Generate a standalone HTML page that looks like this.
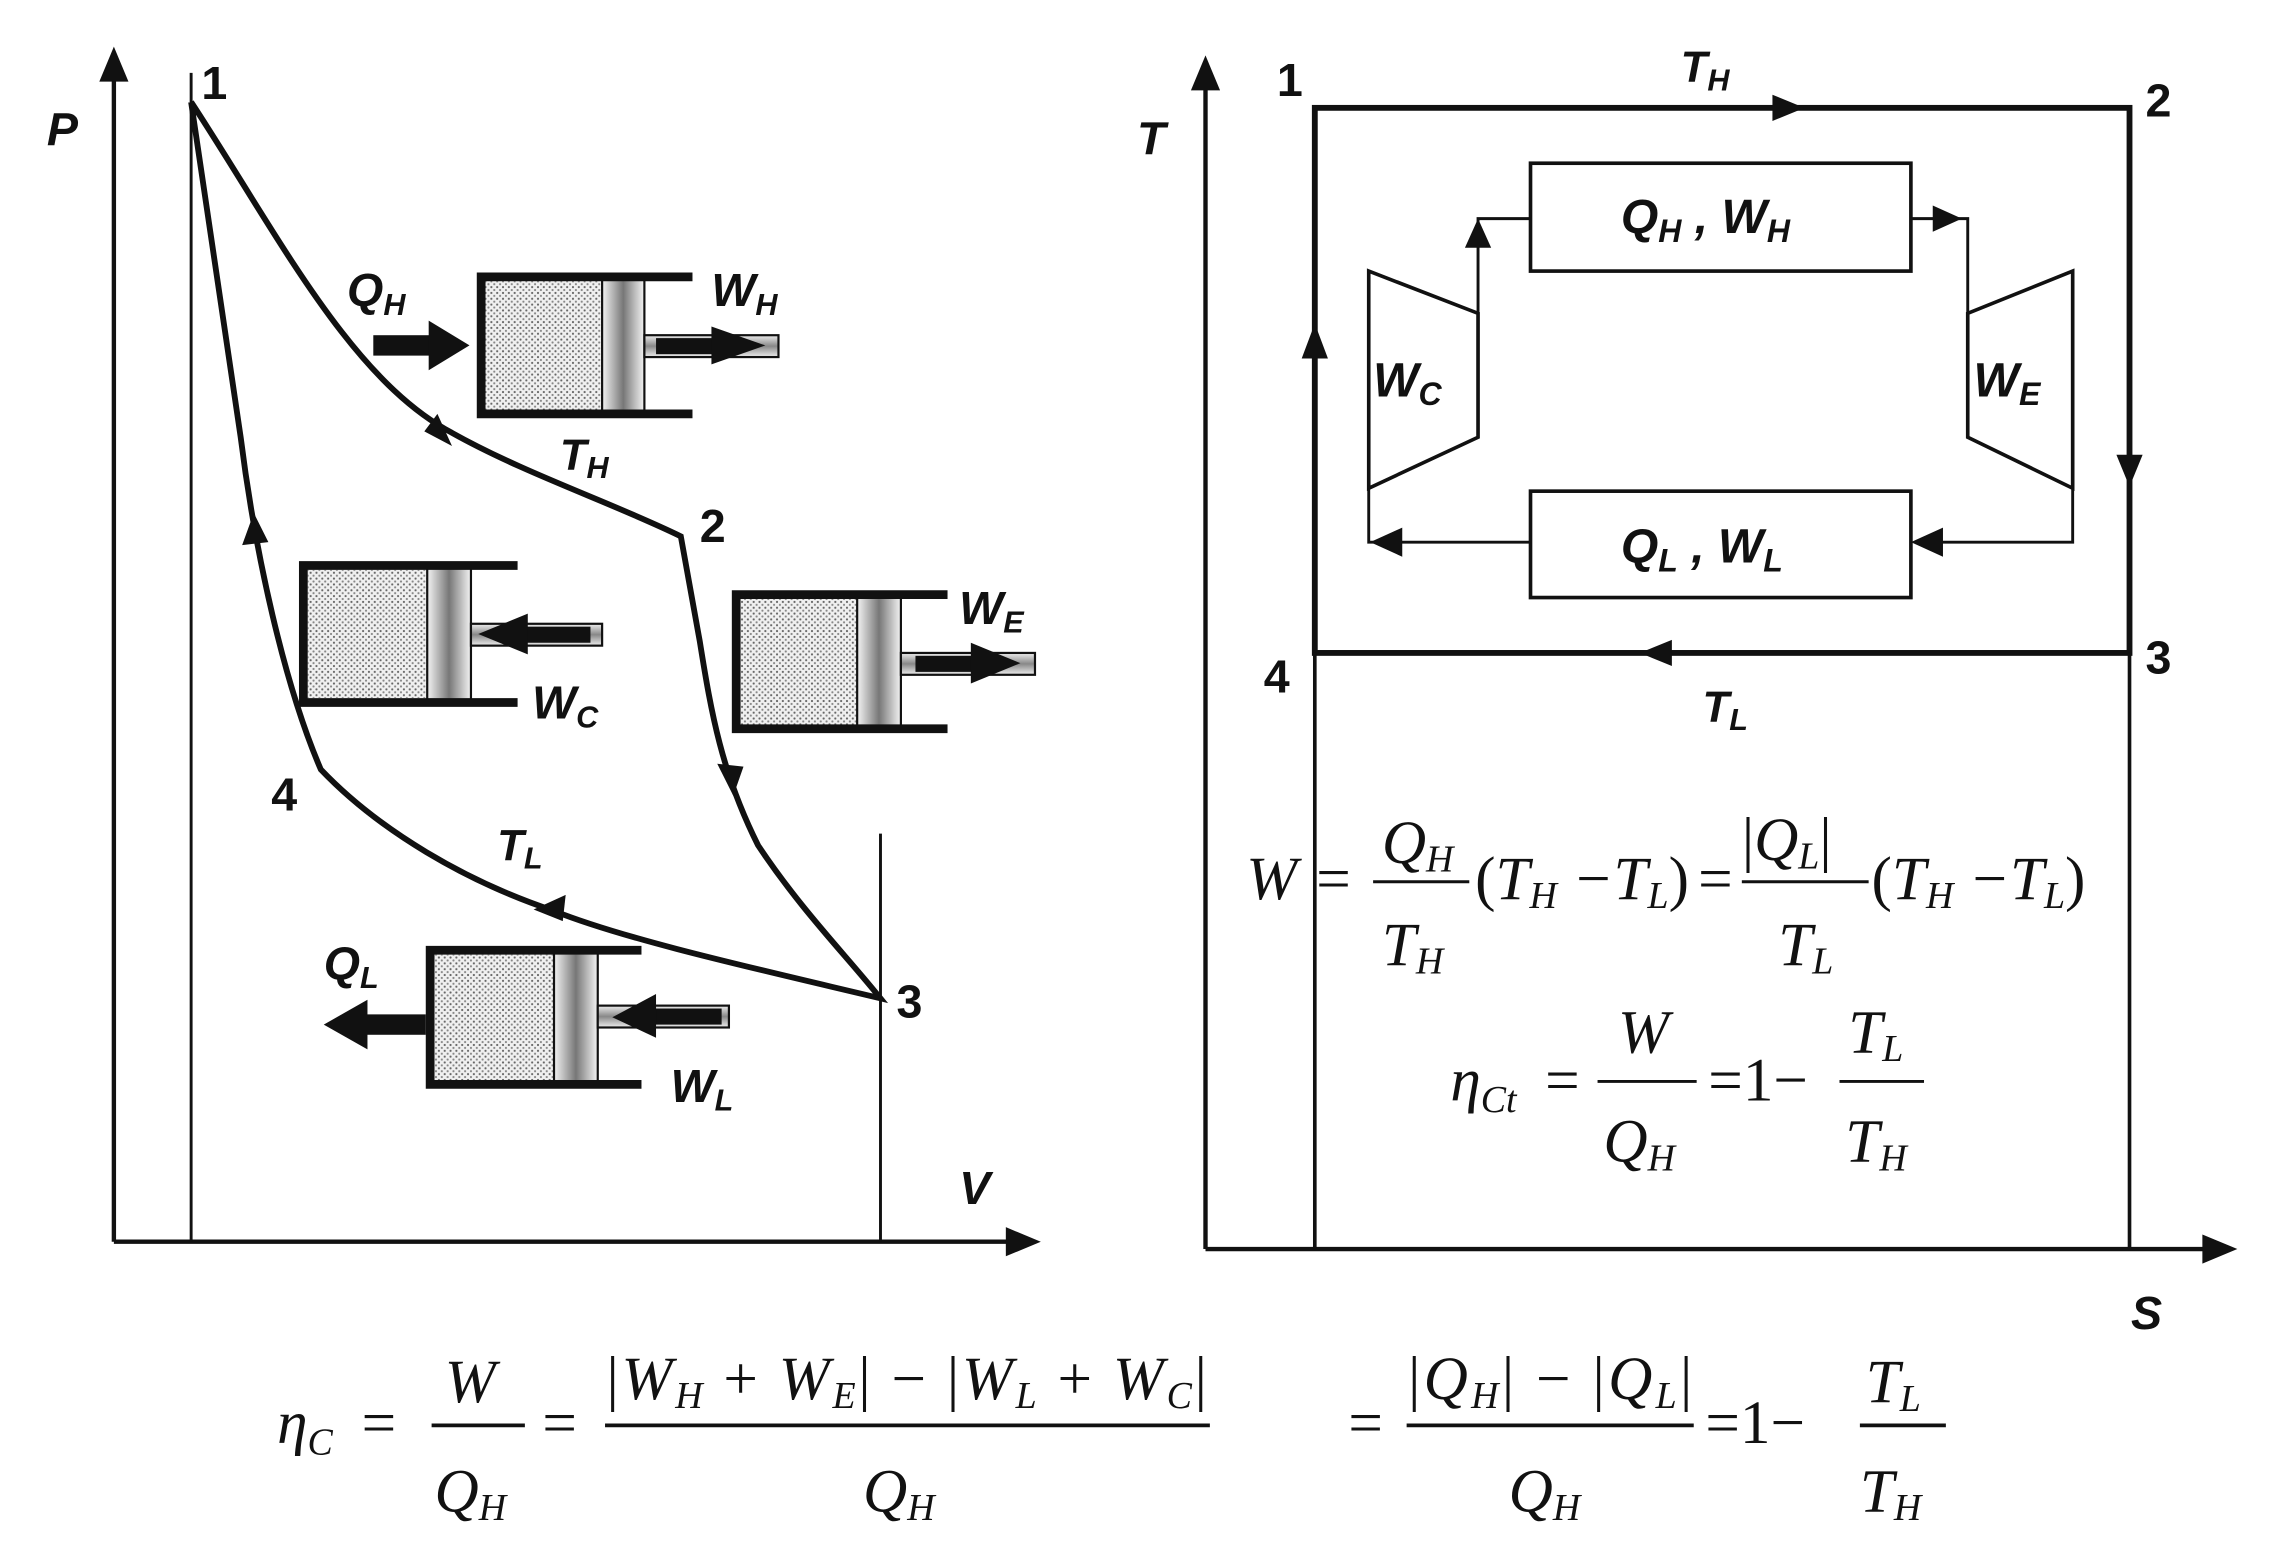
<!DOCTYPE html>
<html><head><meta charset="utf-8"><style>
html,body{margin:0;padding:0;background:#fff;}
svg{display:block;}
.lb{font-family:"Liberation Sans",sans-serif;font-weight:bold;font-style:italic;fill:#111;}
.nm{font-family:"Liberation Sans",sans-serif;font-weight:bold;fill:#111;}
.m{font-family:"Liberation Serif",serif;font-style:italic;fill:#111;font-size:42px;}
.r{font-family:"Liberation Serif",serif;font-style:normal;fill:#111;font-size:42px;}
</style></head><body>
<svg width="2274" height="1558" viewBox="0 0 1560 1069" xmlns="http://www.w3.org/2000/svg">
<defs>
<pattern id="dots" width="4" height="4" patternUnits="userSpaceOnUse">
<rect width="4" height="4" fill="#f0f0f0"/><circle cx="1" cy="1" r="0.75" fill="#666"/><circle cx="3" cy="3" r="0.75" fill="#888"/>
</pattern>
<linearGradient id="pg" x1="0" x2="1" y1="0" y2="0">
<stop offset="0" stop-color="#f4f4f4"/><stop offset="0.5" stop-color="#777"/><stop offset="1" stop-color="#f4f4f4"/>
</linearGradient>
<linearGradient id="rg" x1="0" x2="0" y1="0" y2="1">
<stop offset="0" stop-color="#eee"/><stop offset="0.5" stop-color="#888"/><stop offset="1" stop-color="#eee"/>
</linearGradient>
</defs>

<!-- LEFT P-V -->
<g stroke="#111" fill="none">
<line x1="78" y1="852" x2="78" y2="50" stroke-width="3"/>
<line x1="78" y1="852" x2="695" y2="852" stroke-width="3"/>
<line x1="131" y1="50" x2="131" y2="852" stroke-width="2"/>
<line x1="604" y1="572" x2="604" y2="852" stroke-width="2"/>
<path d="M131,70 C190,160 240,260 310,297 C360,325 420,345 467,368 L480,440 C488,490 495,530 520,580 C550,625 580,655 604,685 C520,665 430,645 380,625 C320,605 260,570 220,528 C195,470 175,380 165,300 C150,200 140,130 131,70" stroke-width="4"/>
</g>
<g fill="#111">
<polygon points="78,32 68,56 88,56"/>
<polygon points="714,852 690,842 690,862"/>
<polygon points="310,306 291,296 300,284"/>
<polygon points="503,546 492,524 510,526"/>
<polygon points="366,624 388,614 386,632"/>
<polygon points="174,352 166,374 184,372"/>
</g>
<text class="nm" x="138" y="68" font-size="32">1</text>
<text class="lb" x="32" y="100" font-size="32">P</text>
<text class="nm" x="480" y="372" font-size="32">2</text>
<text class="nm" x="615" y="698" font-size="32">3</text>
<text class="nm" x="186" y="556" font-size="32">4</text>
<text class="lb" x="658" y="826" font-size="32">V</text>
<text class="lb" x="384" y="322" font-size="30">T<tspan font-size="21" dy="6">H</tspan></text>
<text class="lb" x="341" y="590" font-size="30">T<tspan font-size="21" dy="6">L</tspan></text>

<g>
<rect x="333" y="193" width="80" height="88" fill="url(#dots)"/>
<rect x="413" y="192" width="29" height="90" fill="url(#pg)" stroke="#111" stroke-width="1.5"/>
<rect x="442" y="230" width="92" height="15" fill="url(#rg)" stroke="#111" stroke-width="1.5"/>
<path d="M475,190 H330 V284 H475" fill="none" stroke="#111" stroke-width="6"/>
<rect x="450" y="232" width="40" height="11" fill="#111"/><polygon points="488,224 525,237 488,250" fill="#111"/>
<rect x="256" y="230" width="40" height="14" fill="#111"/><polygon points="294,220 322,237 294,254" fill="#111"/>
</g>
<text class="lb" x="238" y="210" font-size="32">Q<tspan font-size="21" dy="6">H</tspan></text>
<text class="lb" x="488" y="210" font-size="32">W<tspan font-size="21" dy="6">H</tspan></text>

<g>
<rect x="211" y="391" width="82" height="88" fill="url(#dots)"/>
<rect x="293" y="390" width="30" height="90" fill="url(#pg)" stroke="#111" stroke-width="1.5"/>
<rect x="323" y="428" width="90" height="15" fill="url(#rg)" stroke="#111" stroke-width="1.5"/>
<path d="M355,388 H208 V482 H355" fill="none" stroke="#111" stroke-width="6"/>
<rect x="360" y="430" width="45" height="11" fill="#111"/><polygon points="362,421 328,435 362,449" fill="#111"/>
</g>
<text class="lb" x="365" y="493" font-size="32">W<tspan font-size="21" dy="6">C</tspan></text>

<g>
<rect x="508" y="411" width="80" height="88" fill="url(#dots)"/>
<rect x="588" y="410" width="30" height="90" fill="url(#pg)" stroke="#111" stroke-width="1.5"/>
<rect x="618" y="448" width="92" height="15" fill="url(#rg)" stroke="#111" stroke-width="1.5"/>
<path d="M650,408 H505 V500 H650" fill="none" stroke="#111" stroke-width="6"/>
<rect x="628" y="450" width="40" height="11" fill="#111"/><polygon points="666,441 700,455 666,469" fill="#111"/>
</g>
<text class="lb" x="658" y="428" font-size="32">W<tspan font-size="21" dy="6">E</tspan></text>

<g>
<rect x="298" y="655" width="82" height="88" fill="url(#dots)"/>
<rect x="380" y="654" width="30" height="90" fill="url(#pg)" stroke="#111" stroke-width="1.5"/>
<rect x="410" y="690" width="90" height="15" fill="url(#rg)" stroke="#111" stroke-width="1.5"/>
<path d="M440,652 H295 V744 H440" fill="none" stroke="#111" stroke-width="6"/>
<rect x="445" y="692" width="50" height="11" fill="#111"/><polygon points="450,682 420,698 450,712" fill="#111"/>
<rect x="250" y="696" width="42" height="14" fill="#111"/><polygon points="252,686 222,703 252,720" fill="#111"/>
</g>
<text class="lb" x="222" y="672" font-size="32">Q<tspan font-size="21" dy="6">L</tspan></text>
<text class="lb" x="460" y="756" font-size="32">W<tspan font-size="21" dy="6">L</tspan></text>

<!-- RIGHT T-S -->
<g stroke="#111" fill="none">
<line x1="827" y1="857" x2="827" y2="55" stroke-width="3"/>
<line x1="827" y1="857" x2="1515" y2="857" stroke-width="3"/>
<rect x="902" y="74" width="559" height="374" stroke-width="4"/>
<line x1="902" y1="448" x2="902" y2="857" stroke-width="2.5"/>
<line x1="1461" y1="448" x2="1461" y2="857" stroke-width="2.5"/>
<rect x="1050" y="112" width="261" height="74" stroke-width="2.5"/>
<rect x="1050" y="337" width="261" height="73" stroke-width="2.5"/>
<polygon points="939,186 1014,215 1014,300 939,335" stroke-width="2.5"/>
<polygon points="1422,186 1350,215 1350,300 1422,335" stroke-width="2.5"/>
<path d="M1014,215 V150 H1050" stroke-width="2"/>
<path d="M1311,150 H1350 V215" stroke-width="2"/>
<path d="M1422,335 V372 H1320" stroke-width="2"/>
<path d="M1050,372 H939 V335" stroke-width="2"/>
</g>
<g fill="#111">
<polygon points="827,38 817,62 837,62"/>
<polygon points="1535,857 1511,847 1511,867"/>
<polygon points="1238,74 1216,65 1216,83"/>
<polygon points="1461,334 1452,312 1470,312"/>
<polygon points="1125,448 1147,439 1147,457"/>
<polygon points="902,222 893,246 911,246"/>
<polygon points="1014,150 1005,170 1023,170"/>
<polygon points="1346,150 1326,141 1326,159"/>
<polygon points="1311,372 1333,362 1333,382"/>
<polygon points="940,372 962,362 962,382"/>
</g>
<text class="nm" x="876" y="66" font-size="32">1</text>
<text class="nm" x="1472" y="80" font-size="32">2</text>
<text class="nm" x="1472" y="462" font-size="32">3</text>
<text class="nm" x="867" y="475" font-size="32">4</text>
<text class="lb" x="780" y="106" font-size="32">T</text>
<text class="lb" x="1462" y="912" font-size="32">S</text>
<text class="lb" x="1153" y="56" font-size="30">T<tspan font-size="21" dy="6">H</tspan></text>
<text class="lb" x="1168" y="495" font-size="30">T<tspan font-size="21" dy="6">L</tspan></text>
<text class="lb" x="1112" y="160" font-size="33">Q<tspan font-size="22" dy="6">H</tspan><tspan dy="-6"> , W</tspan><tspan font-size="22" dy="6">H</tspan></text>
<text class="lb" x="1112" y="386" font-size="33">Q<tspan font-size="22" dy="6">L</tspan><tspan dy="-6"> , W</tspan><tspan font-size="22" dy="6">L</tspan></text>
<text class="lb" x="942" y="272" font-size="33">W<tspan font-size="22" dy="6">C</tspan></text>
<text class="lb" x="1354" y="272" font-size="33">W<tspan font-size="22" dy="6">E</tspan></text>

<!-- formula W -->
<text class="m" x="855" y="617">W</text>
<text class="r" x="903" y="617">=</text>
<text class="m" x="948" y="592">Q<tspan font-size="26" dy="6">H</tspan></text>
<line x1="942" y1="605" x2="1008" y2="605" stroke="#111" stroke-width="2"/>
<text class="m" x="948" y="662">T<tspan font-size="26" dy="6">H</tspan></text>
<text class="m" x="1012" y="617"><tspan class="r">(</tspan>T<tspan font-size="26" dy="6">H</tspan><tspan dy="-6"> −T</tspan><tspan font-size="26" dy="6">L</tspan><tspan dy="-6" class="r">)</tspan></text>
<text class="r" x="1165" y="617">=</text>
<text class="m" x="1195" y="590"><tspan class="r">|</tspan>Q<tspan font-size="26" dy="6">L</tspan><tspan dy="-6" class="r">|</tspan></text>
<line x1="1195" y1="605" x2="1282" y2="605" stroke="#111" stroke-width="2"/>
<text class="m" x="1220" y="662">T<tspan font-size="26" dy="6">L</tspan></text>
<text class="m" x="1284" y="617"><tspan class="r">(</tspan>T<tspan font-size="26" dy="6">H</tspan><tspan dy="-6"> −T</tspan><tspan font-size="26" dy="6">L</tspan><tspan dy="-6" class="r">)</tspan></text>

<!-- eta Ct -->
<text class="m" x="995" y="755">η<tspan font-size="26" dy="8">Ct</tspan></text>
<text class="r" x="1060" y="755">=</text>
<text class="m" x="1110" y="722">W</text>
<line x1="1096" y1="742" x2="1164" y2="742" stroke="#111" stroke-width="2"/>
<text class="m" x="1100" y="797">Q<tspan font-size="26" dy="6">H</tspan></text>
<text class="r" x="1172" y="755">=1−</text>
<text class="m" x="1268" y="722">T<tspan font-size="26" dy="6">L</tspan></text>
<line x1="1262" y1="742" x2="1320" y2="742" stroke="#111" stroke-width="2"/>
<text class="m" x="1266" y="797">T<tspan font-size="26" dy="6">H</tspan></text>

<!-- bottom formula -->
<text class="m" x="190" y="990">η<tspan font-size="26" dy="8">C</tspan></text>
<text class="r" x="248" y="990">=</text>
<text class="m" x="305" y="962">W</text>
<line x1="296" y1="978" x2="360" y2="978" stroke="#111" stroke-width="2.5"/>
<text class="m" x="298" y="1037">Q<tspan font-size="26" dy="6">H</tspan></text>
<text class="r" x="372" y="990">=</text>
<text class="m" x="416" y="960" textLength="412" lengthAdjust="spacing"><tspan class="r">|</tspan>W<tspan font-size="26" dy="6">H</tspan><tspan dy="-6" class="r"> + </tspan>W<tspan font-size="26" dy="6">E</tspan><tspan dy="-6" class="r">| − |</tspan>W<tspan font-size="26" dy="6">L</tspan><tspan dy="-6" class="r"> + </tspan>W<tspan font-size="26" dy="6">C</tspan><tspan dy="-6" class="r">|</tspan></text>
<line x1="415" y1="978" x2="830" y2="978" stroke="#111" stroke-width="2.5"/>
<text class="m" x="592" y="1037">Q<tspan font-size="26" dy="6">H</tspan></text>
<text class="r" x="925" y="990">=</text>
<text class="m" x="966" y="960" textLength="195" lengthAdjust="spacing"><tspan class="r">|</tspan>Q<tspan font-size="26" dy="6">H</tspan><tspan dy="-6" class="r">| − |</tspan>Q<tspan font-size="26" dy="6">L</tspan><tspan dy="-6" class="r">|</tspan></text>
<line x1="965" y1="978" x2="1162" y2="978" stroke="#111" stroke-width="2.5"/>
<text class="m" x="1035" y="1037">Q<tspan font-size="26" dy="6">H</tspan></text>
<text class="r" x="1170" y="990">=1−</text>
<text class="m" x="1280" y="962">T<tspan font-size="26" dy="6">L</tspan></text>
<line x1="1276" y1="978" x2="1335" y2="978" stroke="#111" stroke-width="2.5"/>
<text class="m" x="1276" y="1037">T<tspan font-size="26" dy="6">H</tspan></text>
</svg>
</body></html>
